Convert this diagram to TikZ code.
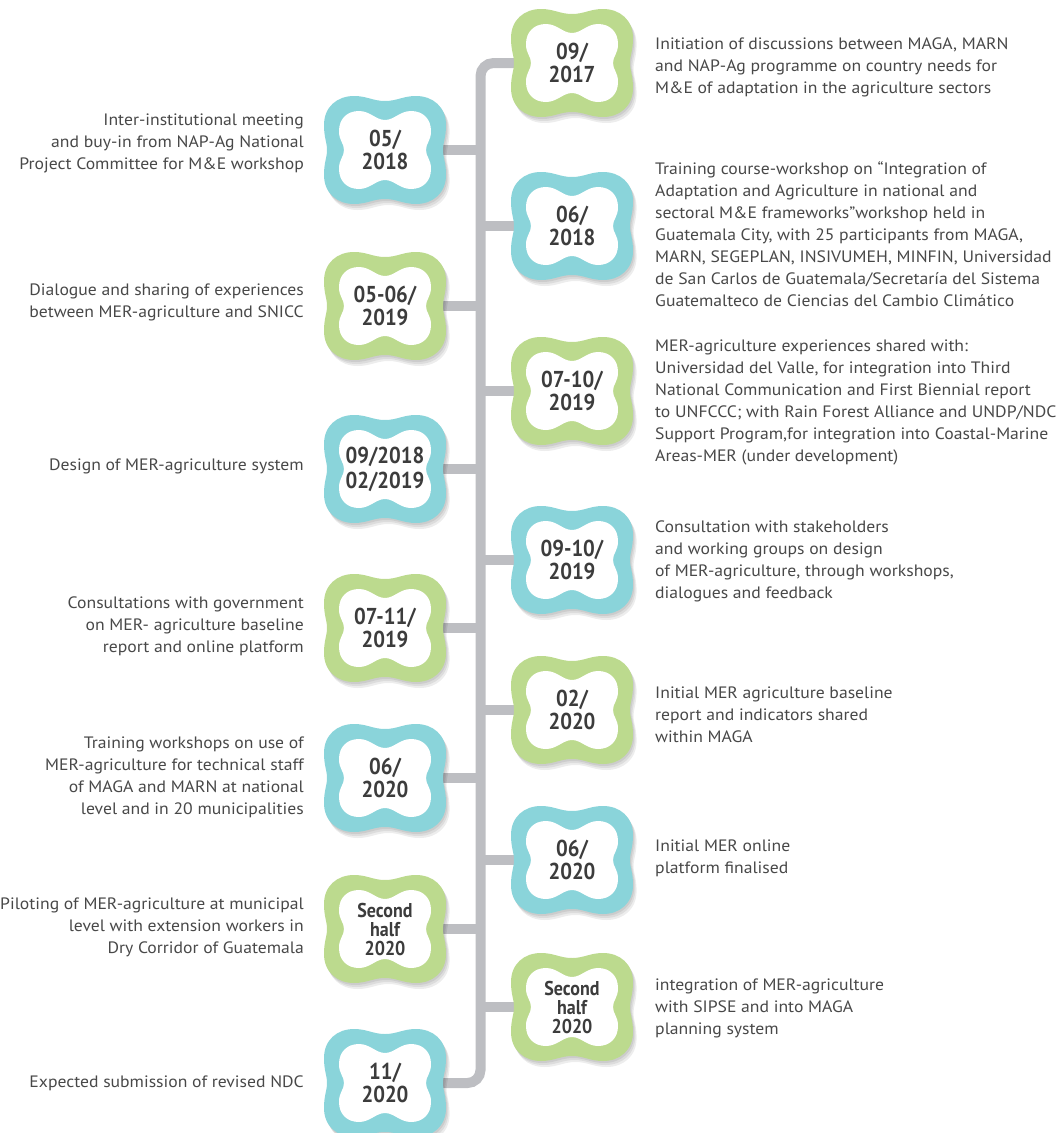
\documentclass[tikz,border=0pt]{standalone}
\usepackage{fontspec}
\setmainfont{PT Sans}[FakeStretch=1.07]
\newfontfamily\datefont{PT Sans}[FakeStretch=0.9]
\usepackage{tikz}
\usetikzlibrary{calc}
\pgfdeclarelayer{background}
\pgfsetlayers{background,main}

\definecolor{leafgreen}{RGB}{188,218,142}
\definecolor{lagoon}{RGB}{138,212,218}
\definecolor{stemgrey}{RGB}{189,190,194}
\definecolor{inkgrey}{RGB}{60,60,60}
\definecolor{bodygrey}{RGB}{72,72,72}

\tikzset{
	datelabel/.style={font=\datefont\bfseries\fontsize{23}{23}\selectfont, text=inkgrey, align=center, inner sep=0pt},
	smalldate/.style={font=\datefont\bfseries\fontsize{20}{19}\selectfont},
	widedate/.style={font=\datefont\bfseries\fontsize{23}{25}\selectfont},
	notel/.style={font=\fontsize{16.5}{22}\selectfont, text=bodygrey, align=right, anchor=east, inner sep=0pt},
	noter/.style={font=\fontsize{16.5}{22}\selectfont, text=bodygrey, align=left, anchor=west, inner sep=0pt},
	stem/.style={stemgrey, line width=10pt}
}

% outline of the cloud badges
\newcommand{\outercloud}{(0,-49) .. controls (12,-49) and (18,-54) .. (31,-54) .. controls (48,-54) and (61,-43) .. (61,-25) .. controls (61,-12) and (58,-8) .. (58,0) .. controls (58,8) and (61,12) .. (61,25) .. controls (61,43) and (48,54) .. (31,54) .. controls (18,54) and (12,49) .. (0,49) .. controls (-12,49) and (-18,54) .. (-31,54) .. controls (-48,54) and (-61,43) .. (-61,25) .. controls (-61,12) and (-58,8) .. (-58,0) .. controls (-58,-8) and (-61,-12) .. (-61,-25) .. controls (-61,-43) and (-48,-54) .. (-31,-54) .. controls (-18,-54) and (-12,-49) .. (0,-49) -- cycle}
\newcommand{\innercloud}{(0,-30) .. controls (9,-30) and (15,-39) .. (26,-39) .. controls (38,-39) and (46,-31) .. (46,-19) .. controls (46,-9) and (41,-7) .. (41,0) .. controls (41,7) and (46,9) .. (46,19) .. controls (46,31) and (38,39) .. (26,39) .. controls (15,39) and (9,30) .. (0,30) .. controls (-9,30) and (-15,39) .. (-26,39) .. controls (-38,39) and (-46,31) .. (-46,19) .. controls (-46,9) and (-41,7) .. (-41,0) .. controls (-41,-7) and (-46,-9) .. (-46,-19) .. controls (-46,-31) and (-38,-39) .. (-26,-39) .. controls (-15,-39) and (-9,-30) .. (0,-30) -- cycle}

% cloud badge: [node options] name, x, y, colour, date
\newcommand{\cloudbadge}[6][]{%
	\begin{scope}[shift={(#3,#4)}]
		\foreach \s in {2,4,6}
			\fill[black, opacity=.07, shift={(0.6*\s,\s)}] \outercloud;
		\fill[#5] \outercloud;
		\fill[white] \innercloud;
	\end{scope}
	\node[datelabel, #1] (#2) at (#3,#4) {#6};
}

\begin{document}
\begin{tikzpicture}[x=1pt, y=-1pt]
	\useasboundingbox (0,0) rectangle (1061,1133);

	% right column
	\cloudbadge{d0917}{572}{63}{leafgreen}{09/\\2017}
	\cloudbadge{d0618}{572}{226}{lagoon}{06/\\2018}
	\cloudbadge{d1019}{572}{391}{leafgreen}{07-10/\\2019}
	\cloudbadge{d0919}{572}{560}{lagoon}{09-10/\\2019}
	\cloudbadge{d0220}{572}{710}{leafgreen}{02/\\2020}
	\cloudbadge{d0620r}{572}{860}{lagoon}{06/\\2020}
	\cloudbadge[smalldate]{dsecr}{572}{1007}{leafgreen}{Second\\half\\2020}

	% left column
	\cloudbadge{d0518}{385}{150}{lagoon}{05/\\2018}
	\cloudbadge{d0519}{385}{306}{leafgreen}{05-06/\\2019}
	\cloudbadge[widedate]{d0918}{385}{469}{lagoon}{09/2018\\02/2019}
	\cloudbadge{d1119}{385}{628}{leafgreen}{07-11/\\2019}
	\cloudbadge{d0620l}{385}{778}{lagoon}{06/\\2020}
	\cloudbadge[smalldate]{dsecl}{385}{929}{leafgreen}{Second\\half\\2020}
	\cloudbadge{d1120}{385}{1083}{lagoon}{11/\\2020}

	\node[noter] (t0917) at (655,67) {Initiation of discussions between MAGA, MARN\\and NAP-Ag programme on country needs for\\M\&E of adaptation in the agriculture sectors};
	\node[noter] (t0618) at (655,234) {Training course-workshop on “Integration of\\Adaptation and Agriculture in national and\\sectoral M\&E frameworks”workshop held in\\Guatemala City, with 25 participants from MAGA,\\MARN, SEGEPLAN, INSIVUMEH, MINFIN, Universidad\\de San Carlos de Guatemala/Secretaría del Sistema\\Guatemalteco de Ciencias del Cambio Climático};
	\node[noter] (t1019) at (655,402) {MER-agriculture experiences shared with:\\Universidad del Valle, for integration into Third\\National Communication and First Biennial report\\to UNFCCC; with Rain Forest Alliance and UNDP/NDC\\Support Program,for integration into Coastal-Marine\\Areas-MER (under development)};
	\node[noter] (t0919) at (655,561) {Consultation with stakeholders\\and working groups on design\\of MER-agriculture, through workshops,\\dialogues and feedback};
	\node[noter] (t0220) at (655,715) {Initial MER agriculture baseline\\report and indicators shared\\within MAGA};
	\node[noter] (t0620r) at (655,858) {Initial MER online\\platform finalised};
	\node[noter] (tsecr) at (655,1008) {integration of MER-agriculture\\with SIPSE and into MAGA\\planning system};

	\node[notel] (t0518) at (304,143) {Inter-institutional meeting\\and buy-in from NAP-Ag National\\Project Committee for M\&E workshop};
	\node[notel] (t0519) at (304,302) {Dialogue and sharing of experiences\\between MER-agriculture and SNICC};
	\node[notel] (t0918) at (304,466) {Design of MER-agriculture system};
	\node[notel] (t1119) at (304,626) {Consultations with government\\on MER- agriculture baseline\\report and online platform};
	\node[notel] (t0620l) at (304,777) {Training workshops on use of\\MER-agriculture for technical staff\\of MAGA and MARN at national\\level and in 20 municipalities};
	\node[notel] (tsecl) at (304,927) {Piloting of MER-agriculture at municipal\\level with extension workers in\\Dry Corridor of Guatemala};
	\node[notel] (t1120) at (304,1083) {Expected submission of revised NDC};

	\coordinate (spine) at (480.5,560);
	\begin{pgfonlayer}{background}
		\draw[stem, rounded corners=13] (d0917.center) -| (spine) |- (d1120.center);
		\foreach \b in {d0618,d1019,d0919,d0220,d0620r,dsecr,d0518,d0519,d0918,d1119,d0620l,dsecl}
			\draw[stem] (spine |- \b.center) -- (\b.center);
	\end{pgfonlayer}
\end{tikzpicture}
\end{document}
